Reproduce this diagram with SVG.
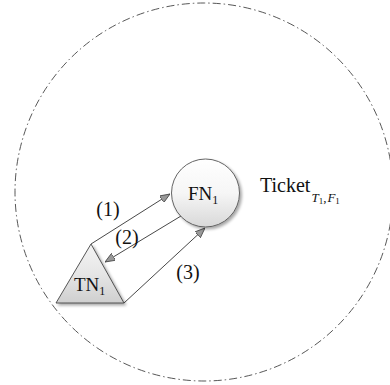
<svg xmlns="http://www.w3.org/2000/svg" width="390" height="385" viewBox="0 0 390 385">
<style>
.lbl{font-size:20px}
.node{font-size:19px}
.sub{font-size:12px}
.isub{font-size:13px;font-style:italic}
.conn{stroke:#333;stroke-width:0.9;fill:none;marker-end:url(#ah)}
</style>
<defs>
<marker id="ah" viewBox="0 0 10 8" refX="10" refY="4" markerWidth="10" markerHeight="8" markerUnits="userSpaceOnUse" orient="auto">
<path d="M0,0 L10,4 L0,8 Z" fill="#999" stroke="#444" stroke-width="0.8"/>
</marker>
<linearGradient id="gc" x1="0" y1="0" x2="0" y2="1">
<stop offset="0" stop-color="#ffffff"/>
<stop offset="0.5" stop-color="#f6f6f6"/>
<stop offset="1" stop-color="#d8d8d8"/>
</linearGradient>
<linearGradient id="gt" x1="0" y1="0" x2="0" y2="1">
<stop offset="0" stop-color="#f4f4f4"/>
<stop offset="0.5" stop-color="#e6e6e6"/>
<stop offset="1" stop-color="#cfcfcf"/>
</linearGradient>
<filter id="sh" x="-20%" y="-20%" width="150%" height="150%">
<feGaussianBlur in="SourceAlpha" stdDeviation="1.5"/>
<feOffset dx="2" dy="2" result="b"/>
<feComponentTransfer><feFuncA type="linear" slope="0.35"/></feComponentTransfer>
<feMerge><feMergeNode/><feMergeNode in="SourceGraphic"/></feMerge>
</filter>
</defs>
<g id="domain">
<circle cx="204" cy="192" r="189" fill="none" stroke="#444" stroke-width="0.9" stroke-dasharray="8,3,1.5,3"/>
</g>
<g id="connectors">
<path class="conn" d="M91,244 L170,194"/>
<path class="conn" d="M181,216 L105,262"/>
<path class="conn" d="M124,303 L205,228"/>
</g>
<g font-family="'Liberation Serif', 'DejaVu Serif', serif" fill="#111">
<g id="FN1">
<circle cx="205.5" cy="193" r="34" fill="url(#gc)" stroke="#555" stroke-width="0.9" filter="url(#sh)"/>
<text class="node" x="188" y="200">FN<tspan class="sub" dy="4">1</tspan></text>
</g>
<g id="TN1">
<polygon points="91,244 56,303 124,303" fill="url(#gt)" stroke="#444" stroke-width="0.9" filter="url(#sh)"/>
<text class="node" x="74" y="291">TN<tspan class="sub" dy="4">1</tspan></text>
</g>
<g id="labels">
<text class="lbl" x="108" y="216" text-anchor="middle">(1)</text>
<text class="lbl" x="127" y="244" text-anchor="middle">(2)</text>
<text class="lbl" x="188" y="279" text-anchor="middle">(3)</text>
<text font-size="20" x="260" y="192">Ticket<tspan class="isub" dx="1" dy="10">T</tspan><tspan font-size="9" dy="2">1</tspan><tspan font-size="13" dy="-2">,</tspan><tspan class="isub" dx="1">F</tspan><tspan font-size="9" dy="2">1</tspan></text>
</g>
</g>
</svg>
